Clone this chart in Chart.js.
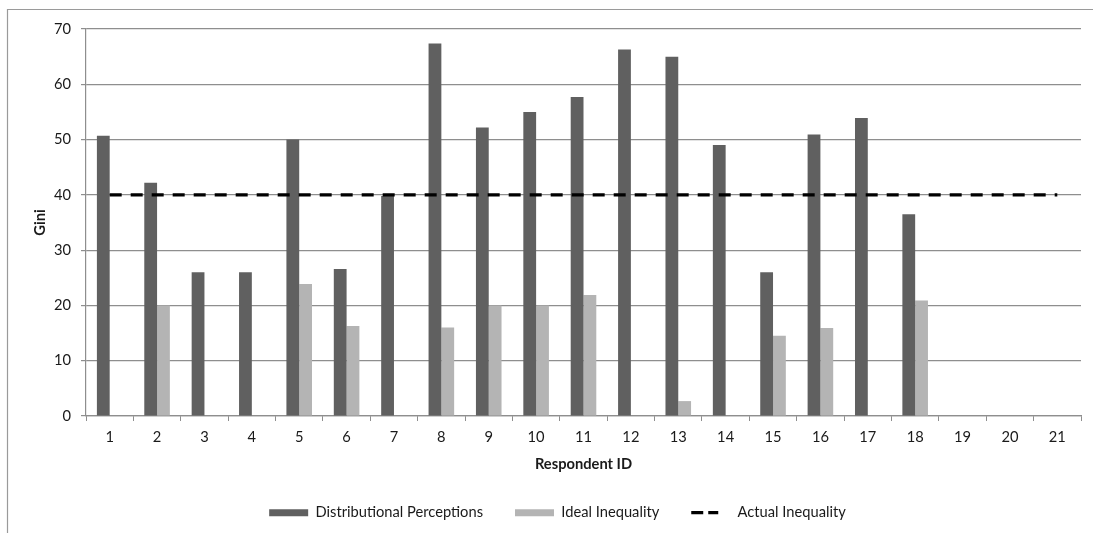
<!DOCTYPE html>
<html>
<head>
<meta charset="utf-8">
<script src="https://cdn.jsdelivr.net/npm/chart.js@4.4.1/dist/chart.umd.min.js"></script>
<style>
  html, body { margin: 0; padding: 0; background: #ffffff; }
  #wrap { width: 1093px; height: 533px; position: relative; }
</style>
</head>
<body>
<div id="wrap"><canvas id="chart" width="1093" height="533"></canvas></div>
<script>
// Respondent IDs on the x axis
const respondents = ['1','2','3','4','5','6','7','8','9','10','11','12','13','14','15','16','17','18','19','20','21'];

// Perceived Gini per respondent
const distributionalPerceptions = [50.7, 42.2, 26.0, 26.0, 50.0, 26.6, 39.8, 67.4, 52.2, 55.0, 57.7, 66.3, 65.0, 49.0, 26.0, 50.9, 53.9, 36.5, null, null, null];

// Ideal Gini per respondent
const idealInequality = [null, 20.0, null, null, 23.9, 16.3, null, 16.0, 20.0, 20.0, 21.9, null, 2.7, null, 14.5, 15.9, null, 20.9, null, null, null];

// Actual Gini reference level
const actualInequality = [40, 40, 40, 40, 40, 40, 40, 40, 40, 40, 40, 40, 40, 40, 40, 40, 40, 40, 40, 40, 40];

// Y axis ticks
const yTicks = [0, 10, 20, 30, 40, 50, 60, 70];

const FONT = 'Lato, "Open Sans", sans-serif';
const FS = 14.7;
const GRID = '#8e8e8e';
const TEXT = '#1a1a1a';

// Frame around the chart (top and left edges)
const framePlugin = {
  id: 'frame',
  beforeDraw(chart) {
    const ctx = chart.ctx;
    ctx.save();
    ctx.fillStyle = '#ffffff';
    ctx.fillRect(0, 0, chart.width, chart.height);
    ctx.strokeStyle = '#9a9a9a';
    ctx.lineWidth = 1.2;
    ctx.beginPath();
    ctx.moveTo(7.5, chart.height);
    ctx.lineTo(7.5, 9.5);
    ctx.lineTo(chart.width, 9.5);
    ctx.stroke();
    ctx.restore();
  }
};

// Nudge the legend row to the right
const legendShift = {
  id: 'legendShift',
  afterLayout(chart) {
    const lg = chart.legend;
    if (lg) { lg.left += 7; lg.right += 7; }
  }
};

new Chart(document.getElementById('chart'), {
  type: 'bar',
  data: {
    labels: respondents,
    datasets: [
      {
        label: 'Distributional Perceptions',
        data: distributionalPerceptions,
        backgroundColor: '#606060',
        borderWidth: 0,
        order: 1,
        categoryPercentage: 0.54,
        barPercentage: 1.0
      },
      {
        label: 'Ideal Inequality',
        data: idealInequality,
        backgroundColor: '#b4b4b4',
        borderWidth: 0,
        order: 1,
        categoryPercentage: 0.54,
        barPercentage: 1.0
      },
      {
        type: 'line',
        label: 'Actual Inequality',
        data: actualInequality,
        borderColor: '#000000',
        backgroundColor: '#000000',
        borderWidth: 3.4,
        borderDash: [12, 9],
        pointRadius: 0,
        fill: false,
        tension: 0,
        order: 0
      }
    ]
  },
  options: {
    responsive: false,
    animation: false,
    devicePixelRatio: 1,
    layout: { padding: { top: 29, right: 12, left: 20, bottom: 3 } },
    plugins: {
      tooltip: { enabled: false },
      legend: {
        position: 'bottom',
        labels: {
          font: { family: FONT, size: FS },
          color: TEXT,
          usePointStyle: true,
          pointStyleWidth: 39,
          boxHeight: 7,
          padding: 32,
          sort: (a, b) => a.datasetIndex - b.datasetIndex,
          generateLabels(chart) {
            const items = Chart.defaults.plugins.legend.labels.generateLabels(chart);
            items.forEach(it => {
              if (it.datasetIndex === 2) {
                it.pointStyle = 'line';
                it.lineWidth = 3.4;
                it.lineDash = [12, 5, 10, 100];
                it.strokeStyle = '#000000';
              } else {
                it.pointStyle = 'rect';
                it.lineWidth = 0;
              }
            });
            return items;
          }
        }
      }
    },
    scales: {
      x: {
        grid: {
          display: true,
          offset: true,
          drawOnChartArea: false,
          drawTicks: true,
          tickLength: 5,
          color: GRID
        },
        border: { display: true, color: GRID, width: 1.2 },
        ticks: {
          font: { family: FONT, size: FS },
          color: TEXT,
          padding: 7,
          maxRotation: 0
        },
        title: {
          display: true,
          text: 'Respondent ID',
          font: { family: FONT, size: FS, weight: 'bold' },
          color: TEXT,
          padding: { top: 3, bottom: 0 }
        }
      },
      y: {
        min: 0,
        max: 70,
        afterBuildTicks(scale) {
          scale.ticks = yTicks.map(v => ({ value: v }));
        },
        afterFit(scale) {
          scale.width = 66;
        },
        grid: {
          color: GRID,
          lineWidth: 1.2,
          drawTicks: true,
          tickLength: 5
        },
        border: { display: true, color: GRID, width: 1.2 },
        ticks: {
          font: { family: FONT, size: FS },
          color: TEXT,
          padding: 10
        },
        title: {
          display: true,
          text: 'Gini',
          font: { family: FONT, size: FS, weight: 'bold' },
          color: TEXT,
          padding: { top: 11, bottom: 4 }
        }
      }
    }
  },
  plugins: [framePlugin, legendShift]
});
</script>
</body>
</html>
